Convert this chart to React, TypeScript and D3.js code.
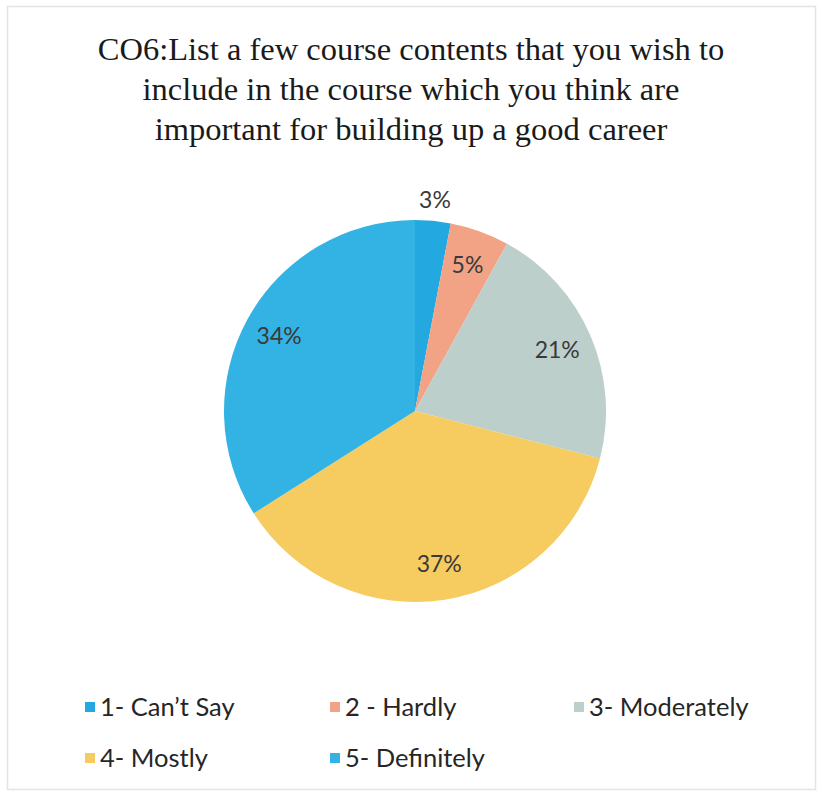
import React, { useEffect, useRef } from "react";
import * as d3 from "d3";

const titleLines = [
  "CO6:List a few course contents that you wish to",
  "include in the course which you think are",
  "important for building up a good career",
];
const categories = ["1- Can\u2019t Say", "2 - Hardly", "3- Moderately", "4- Mostly", "5- Definitely"];
const values = [3, 5, 21, 37, 34];
const labels = ["3%", "5%", "21%", "37%", "34%"];
const colors = ["#24a8e0", "#f2a285", "#bccfcb", "#f6cb5f", "#33b3e3"];

const W = 822;
const H = 796;

export default function App() {
  const ref = useRef<SVGSVGElement>(null);

  useEffect(() => {
    const svg = d3.select(ref.current);
    svg.selectAll("*").remove();

    svg.append("rect").attr("x", 0).attr("y", 0).attr("width", W).attr("height", H).attr("fill", "#fff");
    svg
      .append("rect")
      .attr("x", 7.5)
      .attr("y", 6.5)
      .attr("width", 808)
      .attr("height", 783)
      .attr("fill", "none")
      .attr("stroke", "#dfe6e3")
      .attr("stroke-width", 1.5);

    const title = svg
      .append("text")
      .attr("text-anchor", "middle")
      .attr("font-family", "'Liberation Serif', 'Times New Roman', serif")
      .attr("font-size", 32.5)
      .attr("fill", "#1a1a1a");
    titleLines.forEach((t, i) => {
      title.append("tspan").attr("x", 411).attr("y", 60 + i * 40).text(t);
    });

    const cx = 415;
    const cy = 411;
    const R = 191;
    const data = categories.map((c, i) => ({ c, v: values[i], label: labels[i], color: colors[i] }));
    const pie = d3.pie<any>().value((d) => d.v).sort(null);
    const arcs = pie(data);
    const arc = d3.arc<any>().innerRadius(0).outerRadius(R);
    const labelArc = d3.arc<any>().innerRadius(155).outerRadius(155);
    const outArc = d3.arc<any>().innerRadius(212).outerRadius(212);

    const g = svg.append("g").attr("transform", `translate(${cx},${cy})`);
    g.selectAll("path.slice")
      .data(arcs)
      .join("path")
      .attr("class", "slice")
      .attr("d", arc)
      .attr("fill", (d: any) => d.data.color);

    g.selectAll("text.lbl")
      .data(arcs)
      .join("text")
      .attr("class", "lbl")
      .attr("transform", (d: any) => {
        const p = d.data.v < 4 ? outArc.centroid(d) : labelArc.centroid(d);
        return `translate(${p[0]},${p[1]})`;
      })
      .attr("text-anchor", "middle")
      .attr("dy", "0.35em")
      .attr("font-family", "Lato, 'Open Sans', sans-serif")
      .attr("font-size", 23)
      .attr("fill", "#3a3a3a")
      .text((d: any) => d.data.label);

    const legendPos = [
      [85, 702],
      [330, 702],
      [574, 702],
      [85, 753],
      [330, 753],
    ];
    const lg = svg.append("g");
    data.forEach((d, i) => {
      const [x, y] = legendPos[i];
      lg.append("rect").attr("x", x).attr("y", y).attr("width", 10).attr("height", 10).attr("fill", d.color);
      lg.append("text")
        .attr("x", x + 15)
        .attr("y", y + 14)
        .attr("font-family", "Lato, 'Open Sans', sans-serif")
        .attr("font-size", 25.5)
        .attr("fill", "#262626")
        .text(d.c);
    });
  }, []);

  return (
    <svg
      ref={ref}
      width={W}
      height={H}
      style={{ position: "absolute", left: 0, top: 0, display: "block" }}
    />
  );
}
